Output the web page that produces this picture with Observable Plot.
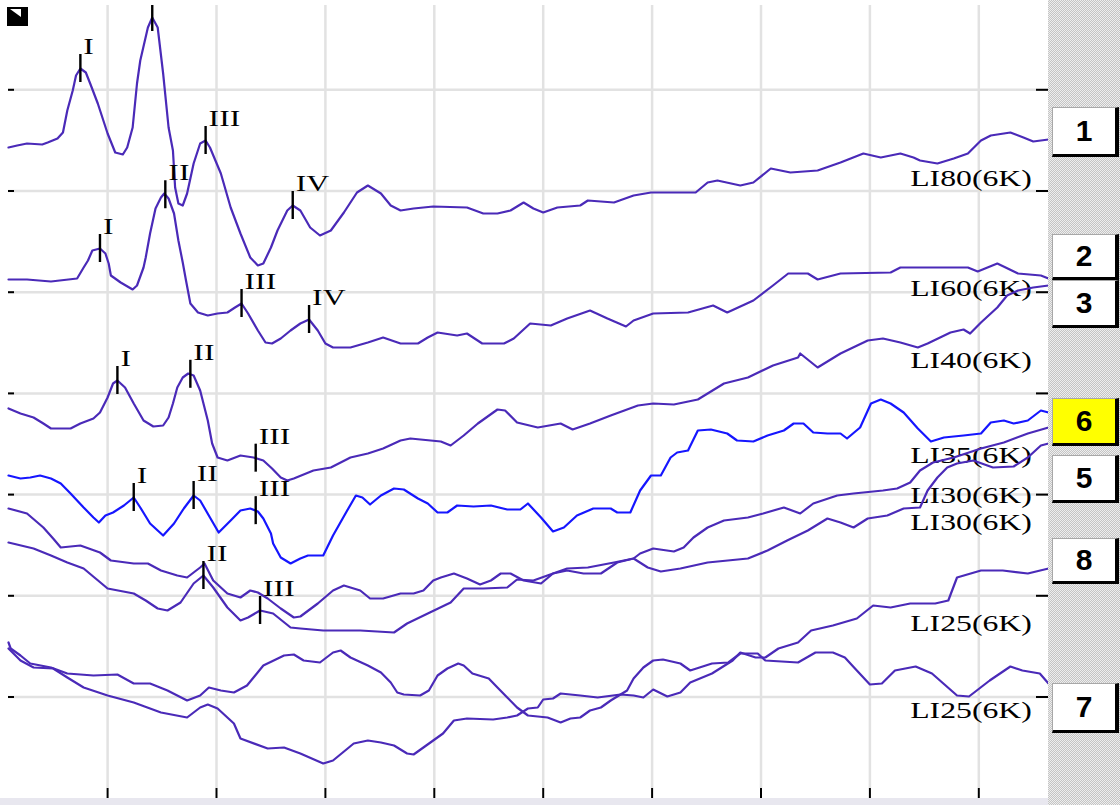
<!DOCTYPE html>
<html>
<head>
<meta charset="utf-8">
<script src="https://cdn.jsdelivr.net/npm/d3@7"></script>
<script src="https://cdn.jsdelivr.net/npm/@observablehq/plot@0.6"></script>
<style>
  html, body { margin: 0; padding: 0; background: #fff; }
  #view { position: relative; width: 1120px; height: 805px; overflow: hidden; background: #fff; }
  #view > svg { position: absolute; left: 0; top: 0; }
  .strip { position: absolute; left: 0; top: 798px; width: 1048px; height: 7px; background: #e8e7ef; }
  .side { position: absolute; left: 1048px; top: 0; width: 72px; height: 805px;
          background-color: #d9d9d9;
          background-image: repeating-conic-gradient(#c4c4c4 0 25%, #eeeeee 0 50%);
          background-size: 2px 2px; }
  .btn { position: absolute; left: 1052px; width: 67px; box-sizing: border-box; background: #fff;
         border-top: 1px solid #a8a8a8; border-left: 1px solid #a8a8a8;
         border-right: 4px solid #000; border-bottom: 3px solid #000;
         display: flex; align-items: center; justify-content: center;
         font: bold 30px "Liberation Sans", Arial, sans-serif; color: #000; }
  .btn.active { background: #ffff00; }
  .corner { position: absolute; left: 7px; top: 7px; width: 21px; height: 19px; background: #000; }
  .corner::after { content: ""; position: absolute; left: 3px; top: 2px; width: 11px; height: 8px;
                   background: #fff; clip-path: polygon(0 0, 100% 0, 100% 100%); }
</style>
</head>
<body>
<div id="view"></div>
<script>
// ---- Axes: time in ms, vertical display units (stacked traces) ----
const timeTicks = [1, 2, 3, 4, 5, 6, 7, 8, 9];
const rowLines = [1.005, 2.017, 3.029, 4.041, 5.053, 6.065, 7.077];

// ---- Recordings (stimulus level, 6 kHz) ----
const traceIds = ["li80", "li60", "li40", "li35", "li30a", "li30b", "li25a", "li25b"];
const traceNames = ["LI80(6K)", "LI60(6K)", "LI40(6K)", "LI35(6K)", "LI30(6K)", "LI30(6K)", "LI25(6K)", "LI25(6K)"];

// Waveforms: [time (ms), amplitude (µV)]
const waveLI80 = [[0.09,0.00],[0.17,0.02],[0.26,0.04],[0.40,0.03],[0.45,0.05],[0.54,0.09],[0.59,0.15],[0.63,0.37],[0.68,0.57],[0.71,0.72],[0.75,0.79],[0.80,0.75],[0.84,0.64],[0.91,0.44],[1.00,0.14],[1.07,-0.05],[1.14,-0.07],[1.18,0.00],[1.23,0.20],[1.27,0.64],[1.30,0.87],[1.37,1.20],[1.41,1.30],[1.46,1.20],[1.51,0.74],[1.56,0.20],[1.60,-0.03],[1.62,-0.40],[1.65,-0.56],[1.69,-0.58],[1.73,-0.46],[1.79,-0.16],[1.85,0.04],[1.90,0.07],[1.94,0.00],[2.04,-0.26],[2.13,-0.60],[2.22,-0.86],[2.31,-1.10],[2.38,-1.18],[2.43,-1.16],[2.50,-1.00],[2.56,-0.83],[2.65,-0.63],[2.70,-0.58],[2.77,-0.63],[2.86,-0.80],[2.95,-0.88],[3.05,-0.83],[3.17,-0.65],[3.29,-0.45],[3.39,-0.38],[3.51,-0.46],[3.60,-0.58],[3.69,-0.63],[3.81,-0.61],[3.99,-0.59],[4.30,-0.60],[4.45,-0.66],[4.58,-0.66],[4.70,-0.63],[4.82,-0.55],[4.91,-0.61],[5.00,-0.65],[5.13,-0.60],[5.34,-0.58],[5.41,-0.53],[5.65,-0.55],[5.83,-0.48],[5.99,-0.45],[6.40,-0.45],[6.51,-0.35],[6.60,-0.33],[6.81,-0.38],[6.93,-0.35],[7.09,-0.21],[7.27,-0.25],[7.52,-0.23],[7.73,-0.15],[7.94,-0.06],[8.10,-0.10],[8.28,-0.06],[8.40,-0.10],[8.46,-0.13],[8.62,-0.16],[8.77,-0.11],[8.90,-0.06],[9.02,0.07],[9.11,0.12],[9.29,0.15],[9.41,0.10],[9.50,0.06],[9.64,0.08]];
const waveLI60 = [[0.09,0.01],[0.26,0.01],[0.48,-0.01],[0.72,0.02],[0.78,0.13],[0.82,0.20],[0.86,0.30],[0.93,0.32],[0.98,0.27],[1.01,0.17],[1.03,0.05],[1.12,-0.02],[1.23,-0.09],[1.27,-0.05],[1.33,0.13],[1.35,0.23],[1.39,0.47],[1.44,0.72],[1.49,0.83],[1.52,0.87],[1.56,0.82],[1.61,0.67],[1.65,0.40],[1.69,0.18],[1.72,0.00],[1.76,-0.23],[1.83,-0.32],[1.92,-0.35],[2.01,-0.33],[2.10,-0.32],[2.17,-0.27],[2.23,-0.23],[2.29,-0.33],[2.38,-0.50],[2.45,-0.62],[2.51,-0.63],[2.59,-0.58],[2.68,-0.50],[2.77,-0.43],[2.85,-0.39],[2.93,-0.50],[3.00,-0.63],[3.07,-0.67],[3.23,-0.67],[3.39,-0.62],[3.53,-0.57],[3.69,-0.63],[3.85,-0.63],[3.94,-0.57],[4.03,-0.52],[4.21,-0.55],[4.30,-0.53],[4.44,-0.63],[4.64,-0.63],[4.73,-0.58],[4.88,-0.43],[5.07,-0.45],[5.22,-0.38],[5.43,-0.30],[5.59,-0.38],[5.76,-0.46],[5.83,-0.40],[6.01,-0.33],[6.33,-0.32],[6.56,-0.25],[6.69,-0.32],[6.93,-0.20],[7.11,-0.05],[7.25,0.07],[7.43,0.07],[7.52,0.01],[7.73,0.07],[8.19,0.08],[8.28,0.13],[8.90,0.13],[8.99,0.09],[9.17,0.17],[9.36,0.07],[9.57,0.05],[9.64,0.02]];
const waveLI40 = [[0.09,0.00],[0.20,-0.05],[0.32,-0.09],[0.41,-0.15],[0.48,-0.20],[0.66,-0.20],[0.75,-0.15],[0.87,-0.10],[0.93,-0.04],[1.00,0.11],[1.05,0.25],[1.09,0.28],[1.16,0.21],[1.24,0.05],[1.33,-0.12],[1.42,-0.18],[1.51,-0.17],[1.56,-0.09],[1.60,0.05],[1.64,0.21],[1.69,0.31],[1.74,0.35],[1.79,0.33],[1.85,0.18],[1.92,-0.12],[1.96,-0.35],[2.01,-0.49],[2.10,-0.52],[2.22,-0.47],[2.34,-0.49],[2.43,-0.52],[2.51,-0.60],[2.59,-0.69],[2.65,-0.72],[2.71,-0.70],[2.89,-0.62],[3.05,-0.59],[3.23,-0.49],[3.39,-0.45],[3.53,-0.40],[3.69,-0.32],[3.78,-0.30],[4.06,-0.33],[4.15,-0.37],[4.27,-0.27],[4.40,-0.15],[4.58,-0.01],[4.65,-0.02],[4.76,-0.14],[4.95,-0.19],[5.16,-0.15],[5.27,-0.21],[5.43,-0.15],[5.62,-0.07],[5.87,0.03],[6.01,0.05],[6.20,0.04],[6.42,0.09],[6.66,0.25],[6.88,0.31],[7.11,0.43],[7.34,0.51],[7.36,0.55],[7.52,0.41],[7.73,0.55],[7.98,0.68],[8.12,0.70],[8.28,0.66],[8.44,0.61],[8.53,0.65],[8.74,0.76],[8.86,0.79],[8.92,0.75],[9.02,0.86],[9.17,1.01],[9.26,1.13],[9.36,1.18],[9.50,1.21],[9.64,1.23]];
const waveLI35 = [[0.09,0.00],[0.20,-0.03],[0.29,-0.02],[0.38,0.00],[0.48,-0.03],[0.57,-0.08],[0.66,-0.18],[0.78,-0.32],[0.87,-0.42],[0.92,-0.47],[0.98,-0.40],[1.05,-0.37],[1.15,-0.30],[1.24,-0.22],[1.30,-0.32],[1.39,-0.48],[1.51,-0.60],[1.61,-0.48],[1.70,-0.33],[1.79,-0.20],[1.85,-0.25],[1.94,-0.42],[2.02,-0.57],[2.13,-0.45],[2.22,-0.35],[2.31,-0.33],[2.38,-0.36],[2.43,-0.43],[2.50,-0.58],[2.52,-0.68],[2.59,-0.82],[2.68,-0.88],[2.77,-0.83],[2.84,-0.80],[2.98,-0.80],[3.07,-0.60],[3.20,-0.35],[3.28,-0.20],[3.34,-0.22],[3.41,-0.29],[3.51,-0.20],[3.63,-0.13],[3.72,-0.14],[3.85,-0.23],[3.94,-0.28],[4.03,-0.37],[4.12,-0.37],[4.21,-0.30],[4.36,-0.31],[4.52,-0.30],[4.67,-0.34],[4.79,-0.34],[4.86,-0.28],[4.98,-0.42],[5.09,-0.56],[5.19,-0.52],[5.31,-0.40],[5.46,-0.33],[5.62,-0.33],[5.68,-0.37],[5.80,-0.37],[5.89,-0.15],[5.99,0.00],[6.08,0.00],[6.17,0.18],[6.23,0.23],[6.33,0.25],[6.42,0.45],[6.54,0.46],[6.69,0.42],[6.78,0.35],[6.93,0.34],[7.06,0.40],[7.21,0.45],[7.30,0.52],[7.39,0.52],[7.48,0.43],[7.61,0.42],[7.73,0.42],[7.79,0.37],[7.91,0.48],[8.01,0.72],[8.10,0.76],[8.19,0.72],[8.31,0.63],[8.44,0.47],[8.56,0.34],[8.68,0.38],[8.86,0.40],[9.02,0.42],[9.11,0.53],[9.23,0.55],[9.32,0.52],[9.45,0.55],[9.57,0.65],[9.64,0.63]];
const waveLI30a = [[0.09,0.00],[0.26,-0.05],[0.41,-0.19],[0.50,-0.30],[0.57,-0.39],[0.75,-0.37],[0.93,-0.44],[1.03,-0.52],[1.24,-0.55],[1.37,-0.55],[1.49,-0.62],[1.64,-0.67],[1.73,-0.69],[1.85,-0.59],[1.89,-0.55],[1.97,-0.72],[2.10,-0.85],[2.22,-0.89],[2.31,-0.82],[2.38,-0.84],[2.47,-0.90],[2.59,-1.00],[2.71,-1.09],[2.77,-1.08],[2.93,-0.95],[3.07,-0.82],[3.17,-0.77],[3.32,-0.82],[3.41,-0.90],[3.53,-0.90],[3.69,-0.85],[3.81,-0.85],[3.90,-0.82],[3.99,-0.72],[4.06,-0.69],[4.18,-0.65],[4.30,-0.70],[4.42,-0.76],[4.52,-0.72],[4.61,-0.65],[4.70,-0.65],[4.82,-0.72],[4.98,-0.75],[5.09,-0.65],[5.22,-0.60],[5.41,-0.59],[5.65,-0.54],[5.83,-0.50],[5.89,-0.45],[6.01,-0.40],[6.20,-0.43],[6.29,-0.39],[6.38,-0.29],[6.51,-0.19],[6.66,-0.12],[6.88,-0.09],[7.02,-0.05],[7.21,0.01],[7.36,-0.05],[7.48,0.05],[7.70,0.13],[7.85,0.15],[8.12,0.18],[8.25,0.20],[8.37,0.26],[8.46,0.38],[8.58,0.46],[8.77,0.51],[9.02,0.60],[9.23,0.66],[9.45,0.75],[9.64,0.81]];
const waveLI30b = [[0.09,0.00],[0.32,-0.06],[0.48,-0.13],[0.63,-0.20],[0.78,-0.26],[0.89,-0.36],[1.00,-0.46],[1.24,-0.51],[1.35,-0.58],[1.46,-0.66],[1.55,-0.68],[1.67,-0.60],[1.79,-0.41],[1.88,-0.33],[1.97,-0.45],[2.10,-0.65],[2.22,-0.78],[2.29,-0.75],[2.40,-0.68],[2.52,-0.71],[2.68,-0.85],[2.77,-0.86],[2.98,-0.88],[3.32,-0.88],[3.63,-0.90],[3.75,-0.81],[3.94,-0.71],[4.15,-0.60],[4.27,-0.46],[4.45,-0.46],[4.67,-0.45],[4.76,-0.37],[4.91,-0.38],[5.09,-0.31],[5.22,-0.28],[5.37,-0.31],[5.53,-0.31],[5.68,-0.20],[5.83,-0.16],[5.96,-0.25],[6.08,-0.29],[6.26,-0.26],[6.51,-0.20],[6.88,-0.16],[7.06,-0.08],[7.24,0.02],[7.43,0.12],[7.61,0.24],[7.73,0.20],[7.85,0.15],[7.98,0.24],[8.16,0.27],[8.31,0.34],[8.46,0.35],[8.53,0.52],[8.62,0.65],[8.71,0.75],[8.80,0.79],[8.95,0.82],[9.13,0.75],[9.32,0.76],[9.45,0.85],[9.57,0.97],[9.64,0.99]];
const waveLI25a = [[0.09,0.00],[0.20,-0.12],[0.32,-0.19],[0.50,-0.20],[0.63,-0.29],[0.78,-0.39],[1.00,-0.47],[1.24,-0.54],[1.49,-0.64],[1.73,-0.69],[1.85,-0.59],[1.92,-0.56],[2.01,-0.60],[2.16,-0.75],[2.22,-0.90],[2.47,-1.00],[2.62,-0.99],[2.77,-1.05],[2.98,-1.15],[3.07,-1.12],[3.26,-0.95],[3.39,-0.92],[3.51,-0.94],[3.63,-0.97],[3.75,-1.05],[3.81,-1.06],[3.90,-0.99],[3.99,-0.92],[4.08,-0.85],[4.18,-0.72],[4.30,-0.70],[4.54,-0.71],[4.67,-0.69],[4.76,-0.67],[4.86,-0.60],[4.95,-0.59],[5.00,-0.51],[5.09,-0.50],[5.16,-0.45],[5.34,-0.47],[5.50,-0.49],[5.71,-0.46],[5.83,-0.47],[5.92,-0.49],[6.01,-0.41],[6.14,-0.48],[6.26,-0.44],[6.35,-0.34],[6.55,-0.25],[6.74,-0.12],[6.81,-0.04],[6.95,-0.09],[7.04,-0.09],[7.16,0.00],[7.34,0.06],[7.46,0.18],[7.66,0.23],[7.88,0.30],[8.03,0.43],[8.19,0.41],[8.37,0.45],[8.60,0.45],[8.72,0.48],[8.80,0.71],[9.02,0.78],[9.22,0.78],[9.45,0.75],[9.64,0.80]];
const waveLI25b = [[0.09,0.00],[0.11,-0.06],[0.20,-0.13],[0.29,-0.21],[0.48,-0.25],[0.63,-0.31],[0.87,-0.33],[1.09,-0.32],[1.24,-0.41],[1.39,-0.41],[1.55,-0.48],[1.73,-0.58],[1.85,-0.53],[1.93,-0.45],[2.04,-0.48],[2.16,-0.50],[2.28,-0.43],[2.43,-0.23],[2.62,-0.13],[2.71,-0.12],[2.80,-0.18],[2.95,-0.20],[3.07,-0.10],[3.14,-0.08],[3.23,-0.15],[3.39,-0.23],[3.51,-0.30],[3.60,-0.40],[3.66,-0.50],[3.72,-0.52],[3.87,-0.53],[3.95,-0.48],[4.03,-0.33],[4.12,-0.26],[4.22,-0.21],[4.27,-0.23],[4.35,-0.31],[4.50,-0.36],[4.58,-0.45],[4.67,-0.55],[4.76,-0.65],[4.86,-0.73],[5.04,-0.75],[5.16,-0.80],[5.25,-0.76],[5.34,-0.75],[5.43,-0.68],[5.53,-0.65],[5.62,-0.58],[5.71,-0.52],[5.77,-0.48],[5.83,-0.36],[5.92,-0.25],[6.01,-0.18],[6.10,-0.17],[6.26,-0.21],[6.35,-0.28],[6.55,-0.21],[6.70,-0.20],[6.81,-0.11],[6.97,-0.11],[7.04,-0.18],[7.34,-0.20],[7.50,-0.10],[7.66,-0.10],[7.77,-0.15],[7.88,-0.28],[8.00,-0.42],[8.11,-0.41],[8.23,-0.28],[8.42,-0.24],[8.57,-0.31],[8.80,-0.53],[8.91,-0.54],[9.10,-0.38],[9.29,-0.24],[9.40,-0.28],[9.56,-0.31],[9.64,-0.41]];

// Marked waves: [wave, latency (ms)]
const peaksLI80 = [["I", 0.75], ["II", 1.41], ["III", 1.90], ["IV", 2.70]];
const peaksLI60 = [["I", 0.93], ["II", 1.53], ["III", 2.23], ["IV", 2.85]];
const peaksLI40 = [["I", 1.09], ["II", 1.76], ["III", 2.36]];
const peaksLI35 = [["I", 1.24], ["II", 1.79], ["III", 2.36]];
const peaksLI30b = [["II", 1.88], ["III", 2.40]];

// Channel buttons on the side bar
const buttonLabels = ["1", "2", "3", "6", "5", "8", "7"];
const activeButton = "6";

// ---- Layout ----
const traceBaseline = {li80: 6.50, li60: 5.17, li40: 3.89, li35: 3.22, li30a: 2.89, li30b: 2.55, li25a: 1.49, li25b: 1.55};
const labelRow = {li80: 6.19, li60: 5.09, li40: 4.37, li35: 3.42, li30a: 3.02, li30b: 2.75, li25a: 1.74, li25b: 0.87};
const labelTime = 8.37;
const buttonTop = [107, 234, 280, 398, 455, 538, 683];
const buttonHeight = [50, 46, 48, 48, 48, 46, 50];
const W = 1120, H = 805, mL = 8, mR = 72, mT = 5, mB = 17;
const frameW = W - mL - mR;
const yTop = 7.92;            // top of the display window
const SERIF = "Liberation Serif";
const PURPLE = "#4a2ab8", BLUE = "#1616ff";

const waves = {li80: waveLI80, li60: waveLI60, li40: waveLI40, li35: waveLI35,
               li30a: waveLI30a, li30b: waveLI30b, li25a: waveLI25a, li25b: waveLI25b};
const peaks = {li80: peaksLI80, li60: peaksLI60, li40: peaksLI40, li35: peaksLI35, li30b: peaksLI30b};

function ampAt(pts, t) {
  for (let i = 1; i < pts.length; i++) {
    const [t0, a0] = pts[i - 1], [t1, a1] = pts[i];
    if (t <= t1) return a0 + (a1 - a0) * (t - t0) / (t1 - t0);
  }
  return pts[pts.length - 1][1];
}

const samples = traceIds.flatMap(id => waves[id].map(([t, a]) => ({id, t, y: traceBaseline[id] + a})));
const markers = traceIds.flatMap(id => (peaks[id] || []).map(([wave, t]) =>
  ({id, wave, t, y: traceBaseline[id] + ampAt(waves[id], t)})));
// a wave name whose slot would sit above the window is scrolled out of view
const markerNames = markers.filter(d => d.y < yTop - 0.45);
const labels = traceIds.map((id, i) => ({id, name: traceNames[i], t: labelTime, y: labelRow[id]}));

const chart = Plot.plot({
  width: W, height: H,
  marginLeft: mL, marginRight: mR, marginTop: mT, marginBottom: mB,
  x: {domain: [0.09, 9.64]},
  y: {domain: [0.09, yTop], axis: null},
  style: {background: "transparent"},
  marks: [
    Plot.gridX(timeTicks, {stroke: "#e2e2e2", strokeOpacity: 1, strokeWidth: 2.5}),
    Plot.gridY(rowLines, {stroke: "#e2e2e2", strokeOpacity: 1, strokeWidth: 2.5}),
    Plot.axisX(timeTicks, {tickSize: 10, stroke: "#000", strokeWidth: 2, fill: "none", label: null}),
    Plot.tickY(rowLines, {y: d => d, stroke: "#000", strokeWidth: 2, insetRight: frameW - 6}),
    Plot.tickY(rowLines, {y: d => d, stroke: "#000", strokeWidth: 2, insetLeft: frameW - 12}),
    Plot.text(labels, {x: "t", y: "y", text: "name", textAnchor: "start", fontFamily: SERIF, fontSize: 23, fill: "#000"}),
    Plot.line(samples.filter(d => d.id !== "li35"), {x: "t", y: "y", z: "id", stroke: PURPLE, strokeWidth: 2.2}),
    Plot.line(samples.filter(d => d.id === "li35"), {x: "t", y: "y", stroke: BLUE, strokeWidth: 2.2}),
    Plot.ruleX(markers, {x: "t", y1: d => d.y - 0.14, y2: d => d.y + 0.14, stroke: "#000", strokeWidth: 2.4, clip: true}),
    Plot.text(markerNames, {x: "t", y: "y", text: "wave", dx: 3, dy: -22, textAnchor: "start",
                            fontFamily: SERIF, fontSize: 23, fill: "#000"})
  ]
});

const view = document.getElementById("view");
view.appendChild(chart);

// widen the serif lettering to the instrument's broad bitmap face
chart.querySelectorAll("text").forEach(el => {
  const w = el.getComputedTextLength();
  if (w > 0) {
    el.setAttribute("textLength", (w * 1.38).toFixed(1));
    el.setAttribute("lengthAdjust", "spacingAndGlyphs");
  }
});

// bottom strip, side bar with channel buttons, corner marker
const strip = document.createElement("div");
strip.className = "strip";
view.appendChild(strip);

const side = document.createElement("div");
side.className = "side";
view.appendChild(side);

buttonLabels.forEach((lab, i) => {
  const b = document.createElement("div");
  b.className = "btn" + (lab === activeButton ? " active" : "");
  b.style.top = buttonTop[i] + "px";
  b.style.height = buttonHeight[i] + "px";
  b.textContent = lab;
  view.appendChild(b);
});

const corner = document.createElement("div");
corner.className = "corner";
view.appendChild(corner);
</script>
</body>
</html>
